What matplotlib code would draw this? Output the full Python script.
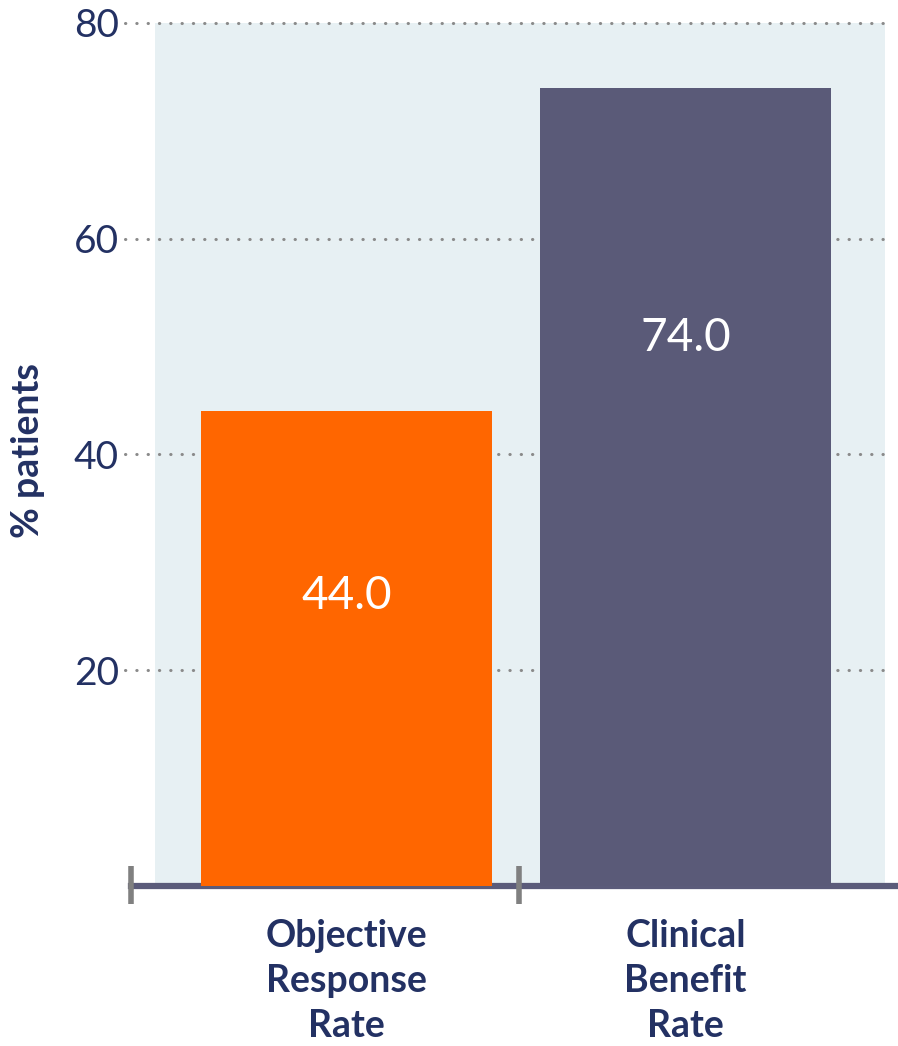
import matplotlib.pyplot as plt

categories = ['Objective\nResponse\nRate', 'Clinical\nBenefit\nRate']
values = [44.0, 74.0]
bar_colors = ['#ff6600', '#5a5a78']
label_frac = [0.61, 0.686]  # where each value label sits, as a share of bar height
y_ticks = [20, 40, 60, 80]

navy = '#233163'
plt.rcParams['font.family'] = ['Lato', 'DejaVu Sans']

fig = plt.figure(figsize=(8.98, 10.46), dpi=100)
ax = fig.add_axes([155 / 898, 1 - 886 / 1046, 730 / 898, 863 / 1046])
ax.set_facecolor('#e7f0f3')

x = range(len(values))
bars = ax.bar(x, values, width=0.858, color=bar_colors, zorder=3)
for b, v, f in zip(bars, values, label_frac):
    ax.text(b.get_x() + b.get_width() / 2, v * f, f'{v:.1f}',
            ha='center', va='center', color='white', fontsize=33, zorder=4)

# dotted gridlines that run out past the panel towards the labels
for t in y_ticks:
    ax.axhline(t, xmin=-0.041, xmax=1.0, color='#8a8a8a', lw=2.2,
               linestyle=(0, (0.1, 3.6)), dash_capstyle='round',
               clip_on=False, zorder=2)

# heavy baseline with short grey separators
ax.axhline(0, xmin=-0.033, xmax=1.018, color='#5b5b7a', lw=4.5,
           clip_on=False, zorder=2)
ax.vlines([-0.636, 0.509], -1.7, 1.85, color='#808080', lw=4,
          clip_on=False, zorder=4)

for s in ax.spines.values():
    s.set_visible(False)

ax.set_yticks(y_ticks)
ax.set_yticklabels([str(t) for t in y_ticks], fontsize=28, color=navy)
ax.tick_params(axis='y', length=0, pad=26)

ax.set_xticks(list(x))
ax.set_xticklabels(categories, fontsize=27, fontweight='bold', color=navy,
                   linespacing=1.38)
ax.tick_params(axis='x', length=0, pad=24)

ax.set_xlim(-0.565, 1.589)
ax.set_ylim(0, 80)

fig.text(28 / 898, 1 - 450 / 1046, '% patients', rotation=90, ha='center',
         va='center', fontsize=27, fontweight='bold', color=navy)

fig.savefig('out.png', dpi=100)
